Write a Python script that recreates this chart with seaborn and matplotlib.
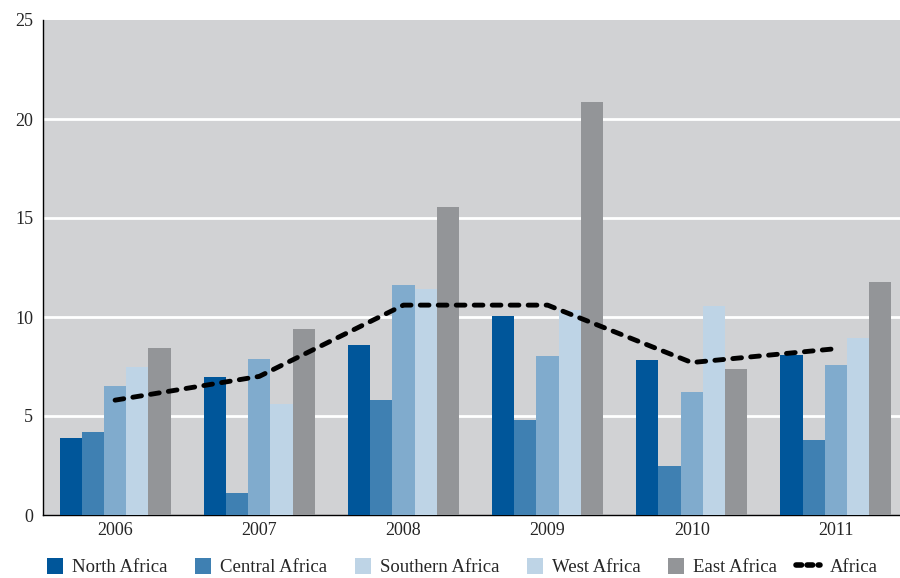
import numpy as np
import pandas as pd
import matplotlib
matplotlib.use("Agg")
import matplotlib.pyplot as plt
import seaborn as sns
from matplotlib.patches import Patch
from matplotlib.lines import Line2D
from matplotlib.legend_handler import HandlerLine2D

years = ["2006", "2007", "2008", "2009", "2010", "2011"]
regions = ["North Africa", "Central Africa", "Southern Africa", "West Africa", "East Africa"]
north = [3.9, 6.95, 8.6, 10.05, 7.85, 8.1]
central = [4.2, 1.1, 5.8, 4.8, 2.5, 3.8]
southern = [6.5, 7.9, 11.6, 8.05, 6.2, 7.6]
west = [7.45, 5.6, 11.4, 10.35, 10.55, 8.95]
east = [8.45, 9.4, 15.55, 20.85, 7.35, 11.75]
africa = [5.8, 7.0, 10.6, 10.6, 7.7, 8.4]

colors = ["#00569a", "#3f80b2", "#80abcd", "#bed4e6", "#939598"]
legend_colors = ["#00569a", "#3f80b2", "#bed4e6", "#bed4e6", "#939598"]

df = pd.DataFrame({"year": years * 5,
                   "region": np.repeat(regions, 6),
                   "value": north + central + southern + west + east})

sns.set_style("white")
plt.rcParams["font.family"] = ["Liberation Serif", "DejaVu Serif"]


class WideLine(HandlerLine2D):
    # legend marker for the dashed line is wider than the patch squares
    def create_artists(self, legend, orig_handle, xdescent, ydescent, width, height, fontsize, trans):
        return super().create_artists(legend, orig_handle, xdescent + 0.55 * width, ydescent,
                                      1.5 * width, height, fontsize, trans)


fig = plt.figure(figsize=(9, 5.78), dpi=100)
ax = fig.add_axes([43 / 900, 63 / 578, 865 / 900, 495 / 578])
ax.set_facecolor("#d1d2d4")

sns.barplot(data=df, x="year", y="value", hue="region", palette=colors,
            width=0.77, saturation=1, ax=ax, legend=False, zorder=3,
            edgecolor="none", linewidth=0)
sns.lineplot(x=np.arange(6), y=africa, ax=ax, color="black", lw=3.5, zorder=4)
ln = ax.lines[-1]
ln.set_dashes((1.8, 1.9))
ln.set_dash_capstyle("round")

ax.set_ylim(0, 25)
ax.set_xlim(-0.5, 5.5)
ax.set_yticks([0, 5, 10, 15, 20, 25])
for y in [5, 10, 15, 20]:
    ax.axhline(y, color="white", lw=2, zorder=1)

ax.set_xticks(np.arange(-0.5, 5.6, 1))
ax.set_xticklabels([])
ax.set_xticks(np.arange(6), minor=True)
ax.set_xticklabels(years, minor=True)
ax.tick_params(axis="x", which="minor", length=0, labelsize=13, pad=5)
ax.tick_params(axis="x", which="major", length=5, width=1, direction="out", color="black")
ax.tick_params(axis="y", length=4, width=1, direction="out", color="black", labelsize=13, pad=3)
ax.set_xlabel("")
ax.set_ylabel("")

for s in ["top", "right"]:
    ax.spines[s].set_visible(False)
for s in ["left", "bottom"]:
    ax.spines[s].set_color("black")
    ax.spines[s].set_linewidth(1)

handles = [Patch(facecolor=c, edgecolor="none", label=r) for c, r in zip(legend_colors, regions)]
africa_handle = Line2D([], [], color="black", lw=4, ls=(0, (1.0, 1.0)),
                       dash_capstyle="round", label="Africa")
handles.append(africa_handle)
fig.legend(handles=handles, loc="lower left", bbox_to_anchor=(34 / 900, -0.02), ncol=6,
           frameon=False, fontsize=13.5, handlelength=0.85, handleheight=1.0,
           handletextpad=0.5, columnspacing=1.45, borderpad=0.2,
           handler_map={africa_handle: WideLine()})

fig.savefig("out.png", dpi=100)
